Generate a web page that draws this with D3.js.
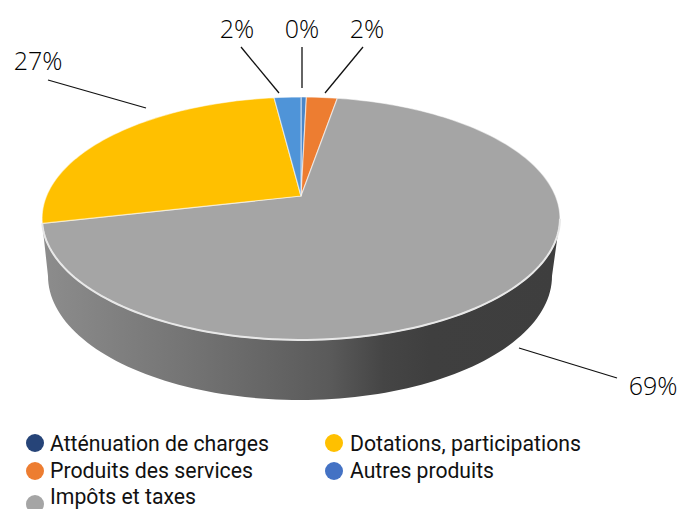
<!DOCTYPE html>
<html><head><meta charset="utf-8">
<script src="https://cdn.jsdelivr.net/npm/d3@7"></script>
<style>html,body{margin:0;padding:0;background:#fff;overflow:hidden}svg{display:block}</style>
</head><body><svg id="c" width="680" height="509"></svg>
<script>
const categories = ["Atténuation de charges","Produits des services","Impôts et taxes","Dotations, participations","Autres produits"];
const values = [0.4,2.3,68.7,26.6,2.0];
const sliceColors = ["#4a86c8","#ed7d31","#a5a5a5","#ffc000","#4f94d8"];
const legendColors = ["#264478","#ed7d31","#a5a5a5","#ffc000","#4472c4"];
const labelTexts = ["0%","2%","69%","27%","2%"];
// layout
const apex=[301,196], persp=0.185, ax=254.5, by=117.3;
const labelPos=[[302,38],[367,38],[653,395],[38,70],[237,38]];
const leaders=[[[302,47],[302,88]],[[363,47],[325,93]],[[519,348],[617,378]],[[48,80],[146,108]],[[241,47],[279,93]]];
const legendPos=[[35,443,50,451],[35,471,50,477.5],[35,504,50,503.5],[334,443,350,451],[334,471,350,477.5]];
const legendWidths=[219,203,146,231,144];

const svg=d3.select("#c");
const top3=(t)=>{const x=Math.sin(t),y=-Math.cos(t),w=1-persp*y;return [apex[0]+ax*x/w,apex[1]+by*y/w];};
const bottomEll=(t)=>[300+252*Math.cos(t),276+124*Math.sin(t)];
const pie=d3.pie().sort(null).value(d=>d)(values);
const line=d3.line();
const defs=svg.append("defs");
const g=defs.append("linearGradient").attr("id","wall").attr("gradientUnits","userSpaceOnUse").attr("x1",45).attr("x2",558).attr("y1",0).attr("y2",0);
[[0,"#8c8c8c"],[0.30,"#727272"],[0.555,"#5a5a5a"],[0.66,"#454545"],[0.75,"#3f3f3f"],[1,"#3e3e3e"]].forEach(s=>g.append("stop").attr("offset",s[0]).attr("stop-color",s[1]));
// side wall
const wallTop=d3.range(0,1.0001,0.01).map(f=>top3(d3.interpolateNumber(Math.PI*0.56,pie[3].startAngle)(f)));
const wallBot=d3.range(0,1.0001,0.01).map(f=>bottomEll(d3.interpolateNumber(Math.PI,0)(f)));
svg.append("path").attr("d",line(wallTop.concat(wallBot))+"Z").attr("fill","url(#wall)");
// top slices
svg.selectAll("path.s").data(pie).join("path").attr("class","s")
 .attr("d",d=>{const n=Math.max(2,Math.ceil((d.endAngle-d.startAngle)*40));
   const pts=d3.range(n+1).map(i=>top3(d.startAngle+(d.endAngle-d.startAngle)*i/n));
   return line([apex].concat(pts))+"Z";})
 .attr("fill",(d,i)=>sliceColors[i]).attr("stroke","#fff").attr("stroke-opacity",0.55).attr("stroke-width",1.2).attr("stroke-linejoin","round");
// front rim
svg.append("path").attr("d",line(wallTop)).attr("fill","none").attr("stroke","#e8e8e8").attr("stroke-width",2);
// leaders
svg.selectAll("path.l").data(leaders).join("path").attr("class","l").attr("d",d=>line(d)).attr("fill","none").attr("stroke","#111").attr("stroke-width",1.3);
svg.selectAll("text.v").data(labelTexts).join("text").attr("class","v").attr("x",(d,i)=>labelPos[i][0]).attr("y",(d,i)=>labelPos[i][1]).attr("text-anchor","middle").attr("font-family","'Open Sans'").attr("font-size",25).attr("font-weight",300).attr("fill","#000").text(d=>d);
// legend
svg.selectAll("circle.k").data(categories).join("circle").attr("class","k").attr("cx",(d,i)=>legendPos[i][0]).attr("cy",(d,i)=>legendPos[i][1]).attr("r",9).attr("fill",(d,i)=>legendColors[i]);
svg.selectAll("text.k").data(categories).join("text").attr("class","k").attr("x",(d,i)=>legendPos[i][2]).attr("y",(d,i)=>legendPos[i][3]).attr("font-family","Roboto").attr("font-size",22).attr("fill","#111")
 .attr("textLength",(d,i)=>legendWidths[i]).attr("lengthAdjust","spacingAndGlyphs").text(d=>d);
</script></body></html>
